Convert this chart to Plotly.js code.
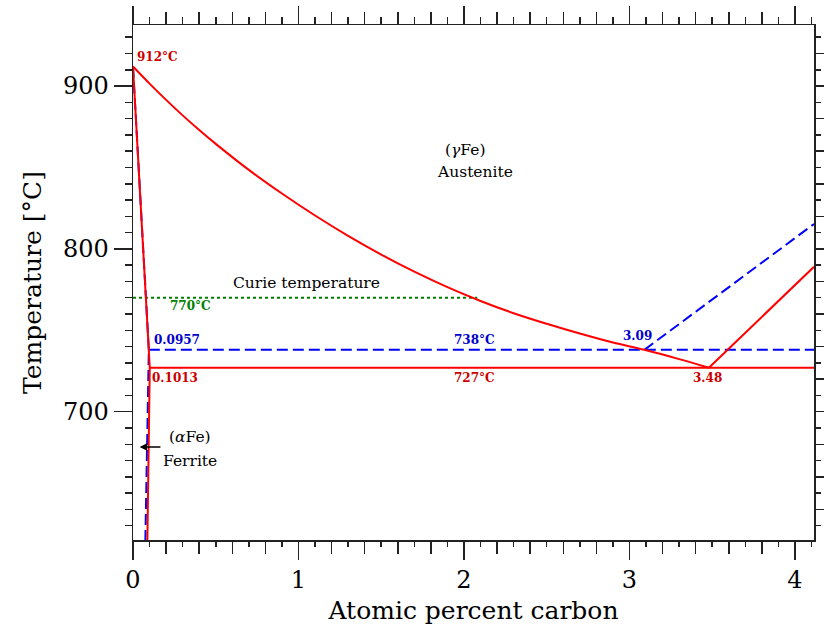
<!DOCTYPE html>
<html>
<head>
<meta charset="utf-8">
<script src="https://cdn.plot.ly/plotly-3.0.1.min.js"></script>
<style>
  html, body { margin: 0; padding: 0; background: #fff; }
  #chart { width: 824px; height: 627px; }
</style>
</head>
<body>
<div id="chart"></div>
<script>
// Fe–C diagram, iron-rich corner (atomic percent carbon vs temperature)

// gamma / (alpha+gamma) boundary (A3), ending at the metastable eutectoid point
const a3Carbon = [0, 0.1, 0.2, 0.3, 0.4, 0.5, 0.7, 0.9, 1.1, 1.3, 1.5, 1.7, 1.9, 2.1, 2.3, 2.5, 2.7, 2.9, 3.09, 3.3, 3.48];
const a3Temp   = [912, 901.5, 891.5, 882, 873, 864.5, 848.5, 834, 820.5, 808, 796.5, 786, 776.5, 768, 760.5, 754, 748, 742.5, 738, 732.3, 727];

// alpha / (alpha+gamma) boundary and ferrite solvus, Fe–Fe3C (metastable)
const ferriteCarbonMeta = [0, 0.1013, 0.0868];
const ferriteTempMeta   = [912, 727, 620];

// alpha / (alpha+gamma) boundary and ferrite solvus, Fe–graphite (stable)
const ferriteCarbonStable = [0, 0.0957, 0.0745];
const ferriteTempStable   = [912, 738, 620];

// eutectoid isotherms
const eutectoidMeta   = {temp: 727, carbon: [0.1013, 3.48, 4.115]};
const eutectoidStable = {temp: 738, carbon: [0.0957, 3.09, 4.115]};

// Acm lines (gamma solubility limit against cementite / graphite)
const acmCarbonMeta   = [3.48, 4.115];
const acmTempMeta     = [727, 789];
const acmCarbonStable = [3.09, 4.115];
const acmTempStable   = [738, 815.3];

// Curie temperature of ferrite
const curieTemp = 770;
const curieCarbon = [0, 2.08];

const xRange = [0, 4.115];
const yRange = [621.2, 937.5];

const RED = '#ff0000', RED_TXT = '#cc0000';
const BLUE = '#0000ff', BLUE_TXT = '#0000cc';
const GREEN = '#008000';
const AX = '#222222';
const FONT = 'DejaVu Serif';

const traces = [
  { x: curieCarbon, y: curieCarbon.map(() => curieTemp), mode: 'lines',
    line: {color: GREEN, width: 2, dash: '3px,3px'} },
  { x: ferriteCarbonStable, y: ferriteTempStable, mode: 'lines',
    line: {color: BLUE, width: 2, dash: '11px,5px'} },
  { x: eutectoidStable.carbon, y: eutectoidStable.carbon.map(() => eutectoidStable.temp), mode: 'lines',
    line: {color: BLUE, width: 2, dash: '11px,5px'} },
  { x: acmCarbonStable, y: acmTempStable, mode: 'lines',
    line: {color: BLUE, width: 2, dash: '11px,5px'} },
  { x: a3Carbon, y: a3Temp, mode: 'lines',
    line: {color: RED, width: 2, shape: 'spline', smoothing: 1} },
  { x: ferriteCarbonMeta, y: ferriteTempMeta, mode: 'lines',
    line: {color: RED, width: 2} },
  { x: eutectoidMeta.carbon, y: eutectoidMeta.carbon.map(() => eutectoidMeta.temp), mode: 'lines',
    line: {color: RED, width: 2} },
  { x: acmCarbonMeta, y: acmTempMeta, mode: 'lines',
    line: {color: RED, width: 2} },
  // empty traces that bring the extra tick-only axes into being
  { x: [null], y: [null], xaxis: 'x2', yaxis: 'y', mode: 'lines' },
  { x: [null], y: [null], xaxis: 'x3', yaxis: 'y', mode: 'lines' },
  { x: [null], y: [null], xaxis: 'x', yaxis: 'y2', mode: 'lines' }
].map(t => Object.assign({showlegend: false, hoverinfo: 'skip'}, t));

function label(x, y, text, color, opts) {
  return Object.assign({
    x: x, y: y, xref: 'x', yref: 'y', text: text, showarrow: false,
    font: {family: FONT, size: 12, color: color, weight: 'bold'},
    xanchor: 'center', yanchor: 'middle'
  }, opts || {});
}
const bodyFont = {family: FONT, size: 15.5, color: '#000'};

const annotations = [
  label(0.01, 918, '912°C', RED_TXT, {xanchor: 'left'}),
  label(2.005, 861, '(<i>γ</i>Fe)', '#000', {font: bodyFont}),
  label(2.065, 847, 'Austenite', '#000', {font: bodyFont}),
  label(1.05, 779, 'Curie temperature', '#000', {font: bodyFont}),
  label(0.21, 765, curieTemp + '°C', GREEN, {xanchor: 'left'}),
  label(0.114, 744, '0.0957', BLUE_TXT, {xanchor: 'left'}),
  label(2.065, 744, eutectoidStable.temp + '°C', BLUE_TXT),
  label(3.05, 746.5, '3.09', BLUE_TXT),
  label(0.1, 720.7, '0.1013', RED_TXT, {xanchor: 'left'}),
  label(2.065, 720.7, eutectoidMeta.temp + '°C', RED_TXT),
  label(3.47, 720.7, '3.48', RED_TXT),
  label(0.345, 684.5, '(<i>α</i>Fe)', '#000', {font: bodyFont}),
  label(0.345, 669.5, 'Ferrite', '#000', {font: bodyFont}),
  { x: 0.04, y: 678.3, ax: 0.175, ay: 678.3, xref: 'x', yref: 'y', axref: 'x', ayref: 'y',
    text: '', showarrow: true, arrowhead: 2, arrowsize: 1, arrowwidth: 1.5, arrowcolor: '#000' }
];

const tickCommon = {ticks: 'outside', tickwidth: 1.5, tickcolor: AX, showgrid: false, zeroline: false, fixedrange: true};

const layout = {
  width: 824, height: 627,
  margin: {l: 133, r: 10, t: 25, b: 87},
  paper_bgcolor: '#fff', plot_bgcolor: '#fff',
  font: {family: FONT, color: '#000'},
  showlegend: false,
  xaxis: Object.assign({}, tickCommon, {
    range: xRange, tick0: 0, dtick: 1, ticklen: 18,
    minor: {dtick: 0.2, ticklen: 12, tickwidth: 1.5, tickcolor: AX, ticks: 'outside'},
    showline: true, linewidth: 1.5, linecolor: AX, mirror: 'ticks',
    tickfont: {family: FONT, size: 24, color: '#000'},
    title: {text: 'Atomic percent carbon', font: {family: FONT, size: 25, color: '#000'}, standoff: 8}
  }),
  xaxis2: Object.assign({}, tickCommon, {
    range: xRange, overlaying: 'x', side: 'bottom', anchor: 'y',
    tick0: 0, dtick: 0.1, ticklen: 6, showticklabels: false, showline: false
  }),
  xaxis3: Object.assign({}, tickCommon, {
    range: xRange, overlaying: 'x', side: 'top', anchor: 'y',
    tick0: 0, dtick: 0.1, ticklen: 7, showticklabels: false, showline: false
  }),
  yaxis: Object.assign({}, tickCommon, {
    range: yRange, tick0: 0, dtick: 100, ticklen: 18,
    minor: {dtick: 10, ticklen: 7, tickwidth: 1.5, tickcolor: AX, ticks: 'outside'},
    showline: true, linewidth: 1.5, linecolor: AX,
    tickfont: {family: FONT, size: 24, color: '#000'},
    title: {text: 'Temperature [°C]', font: {family: FONT, size: 25, color: '#000'}, standoff: 14}
  }),
  yaxis2: Object.assign({}, tickCommon, {
    range: yRange, overlaying: 'y', side: 'right', anchor: 'x',
    tick0: 0, dtick: 20, ticklen: 8, showticklabels: false,
    minor: {dtick: 10, ticklen: 5, tickwidth: 1.5, tickcolor: AX, ticks: 'outside'},
    showline: true, linewidth: 1.5, linecolor: AX
  }),
  annotations: annotations
};

Plotly.newPlot('chart', traces, layout, {staticPlot: true, displayModeBar: false});
</script>
</body>
</html>
